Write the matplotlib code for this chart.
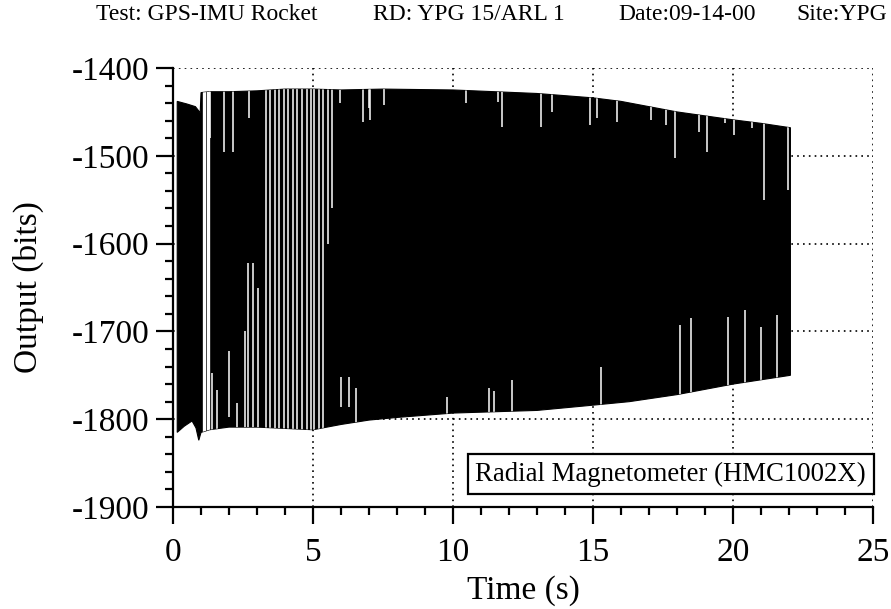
import numpy as np
import matplotlib
matplotlib.use("Agg")
import matplotlib.pyplot as plt
from matplotlib.ticker import MultipleLocator
from matplotlib.patches import Polygon

plt.rcParams['font.family'] = ['Liberation Serif', 'DejaVu Serif']
plt.rcParams['axes.unicode_minus'] = False

# envelope of the dense magnetometer trace
upper_t = [0.15, 0.5, 0.8, 0.97, 1.0, 1.3, 2.0, 3.0, 4.0, 5.0, 6.0, 7.5, 10.0, 13.0, 15.0, 16.0, 18.0, 20.0, 21.0, 22.05]
upper_v = [-1438, -1441, -1444, -1451, -1428, -1427, -1427, -1426, -1424, -1424, -1425, -1424, -1425, -1429, -1434, -1438, -1450, -1459, -1463, -1468]
lower_t = [0.15, 0.4, 0.68, 0.82, 0.92, 1.0, 1.3, 2.0, 3.0, 5.0, 6.0, 7.0, 8.0, 10.0, 13.0, 15.0, 16.3, 18.0, 20.0, 22.05]
lower_v = [-1815, -1808, -1802, -1810, -1824, -1815, -1812, -1809, -1809, -1812, -1806, -1801, -1798, -1793, -1790, -1784, -1780, -1772, -1760, -1750]

# white gaps between cycles (time, top, bottom)
gap_t = [1.09, 1.26]
streak_t = [1.32, 1.82, 2.14, 2.71, 1.39, 1.56, 2.0, 2.3, 2.57, 2.66, 2.86, 3.04,
            3.32, 3.46, 3.64, 3.79, 3.96, 4.11, 4.29, 4.43, 4.61, 4.79, 4.93, 5.04, 5.21, 5.36, 5.54, 5.68,
            5.96, 6.8, 7.0, 7.04, 7.54, 10.46, 11.61, 11.75, 13.14, 13.54, 14.89, 15.14, 15.86,
            17.07, 17.61, 17.93, 18.79, 19.07, 19.71, 20.04, 20.68, 21.11, 21.96,
            6.0, 6.3, 6.55, 9.8, 11.3, 11.45, 12.1, 15.3,
            18.11, 18.5, 19.82, 20.43, 21.0, 21.57]
streak_top = [-1420, -1420, -1420, -1420, -1747, -1767, -1722, -1782, -1700, -1622, -1622, -1650,
              -1420, -1420, -1420, -1420, -1420, -1420, -1420, -1420, -1420, -1420, -1420, -1420, -1420, -1420, -1420, -1420,
              -1420, -1420, -1420, -1420, -1420, -1420, -1420, -1420, -1420, -1420, -1420, -1420, -1420,
              -1420, -1420, -1420, -1420, -1420, -1420, -1420, -1420, -1420, -1420,
              -1752, -1752, -1765, -1775, -1765, -1768, -1755, -1740,
              -1693, -1685, -1684, -1676, -1695, -1681]
streak_bot = [-1480, -1496, -1496, -1457, -1830, -1830, -1798, -1830, -1830, -1830, -1830, -1830,
              -1830, -1830, -1830, -1830, -1830, -1830, -1830, -1830, -1830, -1830, -1830, -1830, -1830, -1830, -1600, -1560,
              -1440, -1462, -1445, -1459, -1442, -1440, -1439, -1467, -1467, -1450, -1465, -1457, -1462,
              -1459, -1465, -1503, -1473, -1496, -1463, -1476, -1468, -1550, -1539,
              -1786, -1786, -1830, -1830, -1830, -1830, -1830, -1830,
              -1830, -1830, -1830, -1830, -1830, -1830]

fig = plt.figure(figsize=(8.91, 6.09), dpi=100)
ax = fig.add_axes([0.1942, 0.1675, 0.7856, 0.7208])

band_x = np.concatenate([upper_t, lower_t[::-1]])
band_y = np.concatenate([upper_v, lower_v[::-1]])
band = Polygon(np.column_stack([band_x, band_y]), closed=True, facecolor='black',
               edgecolor='black', linewidth=0.8, zorder=2)
ax.add_patch(band)

lines = ax.vlines(streak_t, streak_bot, streak_top, colors='white', linewidth=1.1, zorder=3)
lines.set_clip_path(band)
gaps = ax.vlines(gap_t, -1830, -1420, colors='white', linewidth=2.4, zorder=3)
gaps.set_clip_path(band)

ax.set_xlim(0, 25)
ax.set_ylim(-1900, -1400)
ax.xaxis.set_major_locator(MultipleLocator(5))
ax.xaxis.set_minor_locator(MultipleLocator(1))
ax.yaxis.set_major_locator(MultipleLocator(100))
ax.yaxis.set_minor_locator(MultipleLocator(20))

ax.grid(True, which='major', linestyle=(0, (1, 2.5)), color='black', linewidth=1.2)
ax.set_axisbelow(True)
ax.spines['top'].set_visible(False)
ax.spines['right'].set_visible(False)
ax.spines['left'].set_linewidth(1.6)
ax.spines['bottom'].set_linewidth(1.6)
ax.tick_params(which='major', direction='out', length=12, width=1.6, labelsize=24)
ax.tick_params(which='minor', direction='out', length=6, width=1.6)
ax.tick_params(axis='x', which='major', pad=10)
ax.tick_params(axis='y', which='major', pad=5)

ax.set_xlabel('Time (s)', fontsize=24)
ax.set_ylabel('Output (bits)', fontsize=24)
ax.xaxis.set_label_coords(0.5, -0.155)
ax.yaxis.set_label_coords(-0.185, 0.5)

ax.text(0.99, 0.075, 'Radial Magnetometer (HMC1002X)', transform=ax.transAxes,
        ha='right', va='center', fontsize=19.3, zorder=5,
        bbox=dict(boxstyle='square,pad=0.28', facecolor='white', edgecolor='black', linewidth=1.6))

fig.text(96 / 891, 1 - 15 / 609, 'Test: GPS-IMU Rocket', fontsize=17, ha='left', va='center')
fig.text(373 / 891, 1 - 15 / 609, 'RD: YPG 15/ARL 1', fontsize=17, ha='left', va='center')
fig.text(618 / 891, 1 - 15 / 609, 'Date:09-14-00', fontsize=17, ha='left', va='center')
fig.text(887 / 891, 1 - 15 / 609, 'Site:YPG', fontsize=17, ha='right', va='center')

fig.savefig('out.png', dpi=100)
